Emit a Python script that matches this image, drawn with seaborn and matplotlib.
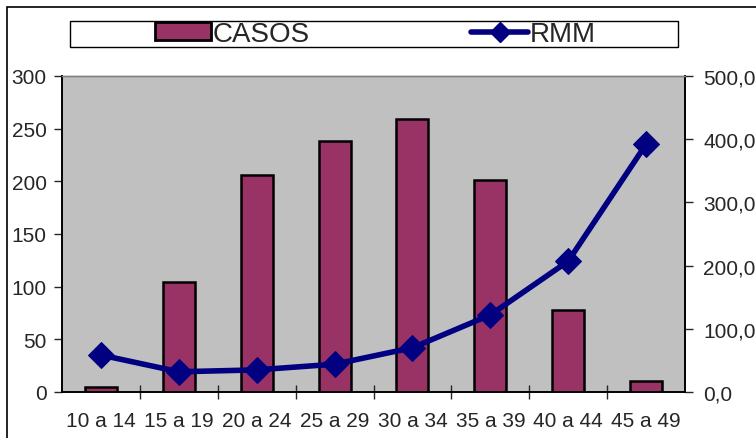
import matplotlib
matplotlib.use('Agg')
import matplotlib.pyplot as plt
import seaborn as sns
import pandas as pd
from matplotlib.patches import Patch, Rectangle
from matplotlib.lines import Line2D
from matplotlib.ticker import FuncFormatter, FixedLocator

# Data
grupos = ['10 a 14', '15 a 19', '20 a 24', '25 a 29', '30 a 34', '35 a 39', '40 a 44', '45 a 49']
casos = [5, 104, 206, 238, 259, 201, 78, 10]
rmm = [58.5, 32, 35, 44, 70, 122, 207, 392]

df = pd.DataFrame({'grupo': grupos, 'casos': casos, 'rmm': rmm})

sns.set_style('white')
plt.rcParams['font.family'] = ['Liberation Sans', 'DejaVu Sans']

bar_color = '#993366'
line_color = '#000080'

fig = plt.figure(figsize=(7.56, 4.39), dpi=100)
ax = fig.add_axes([62 / 756, 1 - 393 / 439, 623 / 756, 316 / 439])
ax.set_facecolor('#C0C0C0')

sns.barplot(data=df, x='grupo', y='casos', color=bar_color, width=0.41,
            edgecolor='black', linewidth=1.8, saturation=1, ax=ax)
ax.set_xlim(-0.5, len(grupos) - 0.5)
ax.set_ylim(0, 300)
ax.set_yticks(range(0, 301, 50))
ax.set_xlabel('')
ax.set_ylabel('')

ax2 = ax.twinx()
sns.lineplot(data=df, x='grupo', y='rmm', color=line_color, linewidth=4,
             marker='D', markersize=13, markeredgecolor=line_color,
             sort=False, ax=ax2)
ax2.set_ylim(0, 500)
ax2.set_yticks(range(0, 501, 100))
ax2.yaxis.set_major_formatter(FuncFormatter(lambda v, p: f'{v:.1f}'.replace('.', ',')))
ax2.set_xlim(-0.5, len(grupos) - 0.5)
ax2.set_ylabel('')

for a in (ax, ax2):
    for side in ('left', 'right', 'bottom'):
        a.spines[side].set_color('black')
        a.spines[side].set_linewidth(1.2)
    a.spines['top'].set_color('#808080')
    a.spines['top'].set_linewidth(1.0)

ax.tick_params(axis='y', direction='out', length=6, width=1, pad=5, labelsize=15, left=True)
ax2.tick_params(axis='y', direction='out', length=6, width=1, pad=7, labelsize=15, right=True)
ax.tick_params(axis='x', which='major', length=0, pad=14, labelsize=15)
ax.xaxis.set_minor_locator(FixedLocator([i + 0.5 for i in range(len(grupos) - 1)]))
ax.tick_params(axis='x', which='minor', direction='inout', length=10, width=1, bottom=True)
ax2.tick_params(axis='x', bottom=False, labelbottom=False)

# outer chart border (left and top visible)
fig.patches.append(Rectangle((7 / 756, -0.1), 1.2, 1 - 8 / 439 + 0.1, transform=fig.transFigure,
                             fill=False, edgecolor='black', linewidth=1.2))
# legend box
fig.patches.append(Rectangle((70 / 756, 1 - 48 / 439), 608 / 756, 26 / 439, transform=fig.transFigure,
                             fill=False, edgecolor='black', linewidth=1.0))

handles = [Patch(facecolor=bar_color, edgecolor='black', linewidth=2),
           Line2D([], [], color=line_color, linewidth=4, marker='D', markersize=10)]
fig.legend(handles, ['CASOS', 'RMM'], loc='center', bbox_to_anchor=(375 / 756, 1 - 35 / 439),
           ncol=2, frameon=False, fontsize=20, handlelength=2.05, handleheight=0.6,
           handletextpad=0.05, columnspacing=5.8, borderpad=0)

fig.savefig('out.png', dpi=100)
